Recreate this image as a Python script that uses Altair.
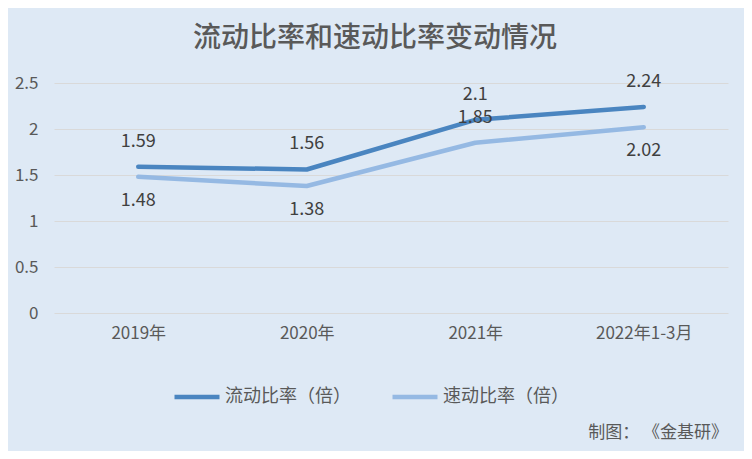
import altair as alt
import pandas as pd

categories = ["2019年", "2020年", "2021年", "2022年1-3月"]
current_ratio = [1.59, 1.56, 2.1, 2.24]
quick_ratio = [1.48, 1.38, 1.85, 2.02]
series_names = ["流动比率（倍）", "速动比率（倍）"]
y_ticks = [0, 0.5, 1, 1.5, 2, 2.5]

rows = []
for c, v in zip(categories, current_ratio):
    rows.append({"cat": c, "series": series_names[0], "value": v})
for c, v in zip(categories, quick_ratio):
    rows.append({"cat": c, "series": series_names[1], "value": v})
df = pd.DataFrame(rows)

FONT = "Noto Sans CJK SC"
TXT = "#595959"

x_enc = alt.X("cat:N", sort=categories, title=None,
              scale=alt.Scale(padding=0.5),
              axis=alt.Axis(labelAngle=0, labelFontSize=17, labelColor=TXT, labelFont=FONT,
                            labelPadding=12, ticks=False, domain=False, grid=False))
y_enc = alt.Y("value:Q", title=None,
              scale=alt.Scale(domain=[0, 2.5], nice=False),
              axis=alt.Axis(values=y_ticks, format="~g", labelFontSize=17, labelColor=TXT,
                            labelFont=FONT, labelPadding=16, ticks=False, domain=False,
                            grid=True, gridColor="#d9d9d9", gridWidth=1.2))

color_enc = alt.Color("series:N", sort=series_names,
                      scale=alt.Scale(domain=series_names, range=["#4a85c0", "#95b9e3"]),
                      legend=alt.Legend(title=None, orient="none", direction="horizontal",
                                        legendX=118, legendY=289, symbolType="stroke",
                                        symbolSize=2025, symbolStrokeWidth=4.5,
                                        labelFontSize=18, labelColor=TXT, labelFont=FONT,
                                        labelOffset=3, columnPadding=32))

base = alt.Chart(df)

lines = base.mark_line(strokeWidth=4.5, strokeCap="round", strokeJoin="round").encode(
    x=x_enc, y=y_enc, color=color_enc)

above = base.transform_filter(
    f"datum.series == '{series_names[0]}' || datum.cat == '2021年'"
).mark_text(dy=-25, fontSize=18, color="#404040", font=FONT).encode(
    x=alt.X("cat:N", sort=categories), y="value:Q", text=alt.Text("value:Q"))

below = base.transform_filter(
    f"datum.series == '{series_names[1]}' && datum.cat != '2021年'"
).mark_text(dy=24, fontSize=18, color="#404040", font=FONT).encode(
    x=alt.X("cat:N", sort=categories), y="value:Q", text=alt.Text("value:Q"))

footer = alt.Chart(pd.DataFrame({"t": ["制图： 《金基研》"]})).mark_text(
    align="right", baseline="middle", fontSize=17, color=TXT, font=FONT
).encode(x=alt.value(674), y=alt.value(350), text="t:N")

chart = alt.layer(lines, above, below, footer).properties(
    width=674, height=230,
    title=alt.TitleParams("流动比率和速动比率变动情况", fontSize=28, color=TXT, font=FONT,
                          fontWeight=500, anchor="middle", dx=-16, offset=20),
    autosize=alt.AutoSizeParams(type="none"),
    padding={"left": 46, "top": 75, "right": 16, "bottom": 138},
).configure(background="#dee9f5").configure_view(stroke=None)

chart.save("out.html", embed_options={"renderer": "svg", "actions": False})
